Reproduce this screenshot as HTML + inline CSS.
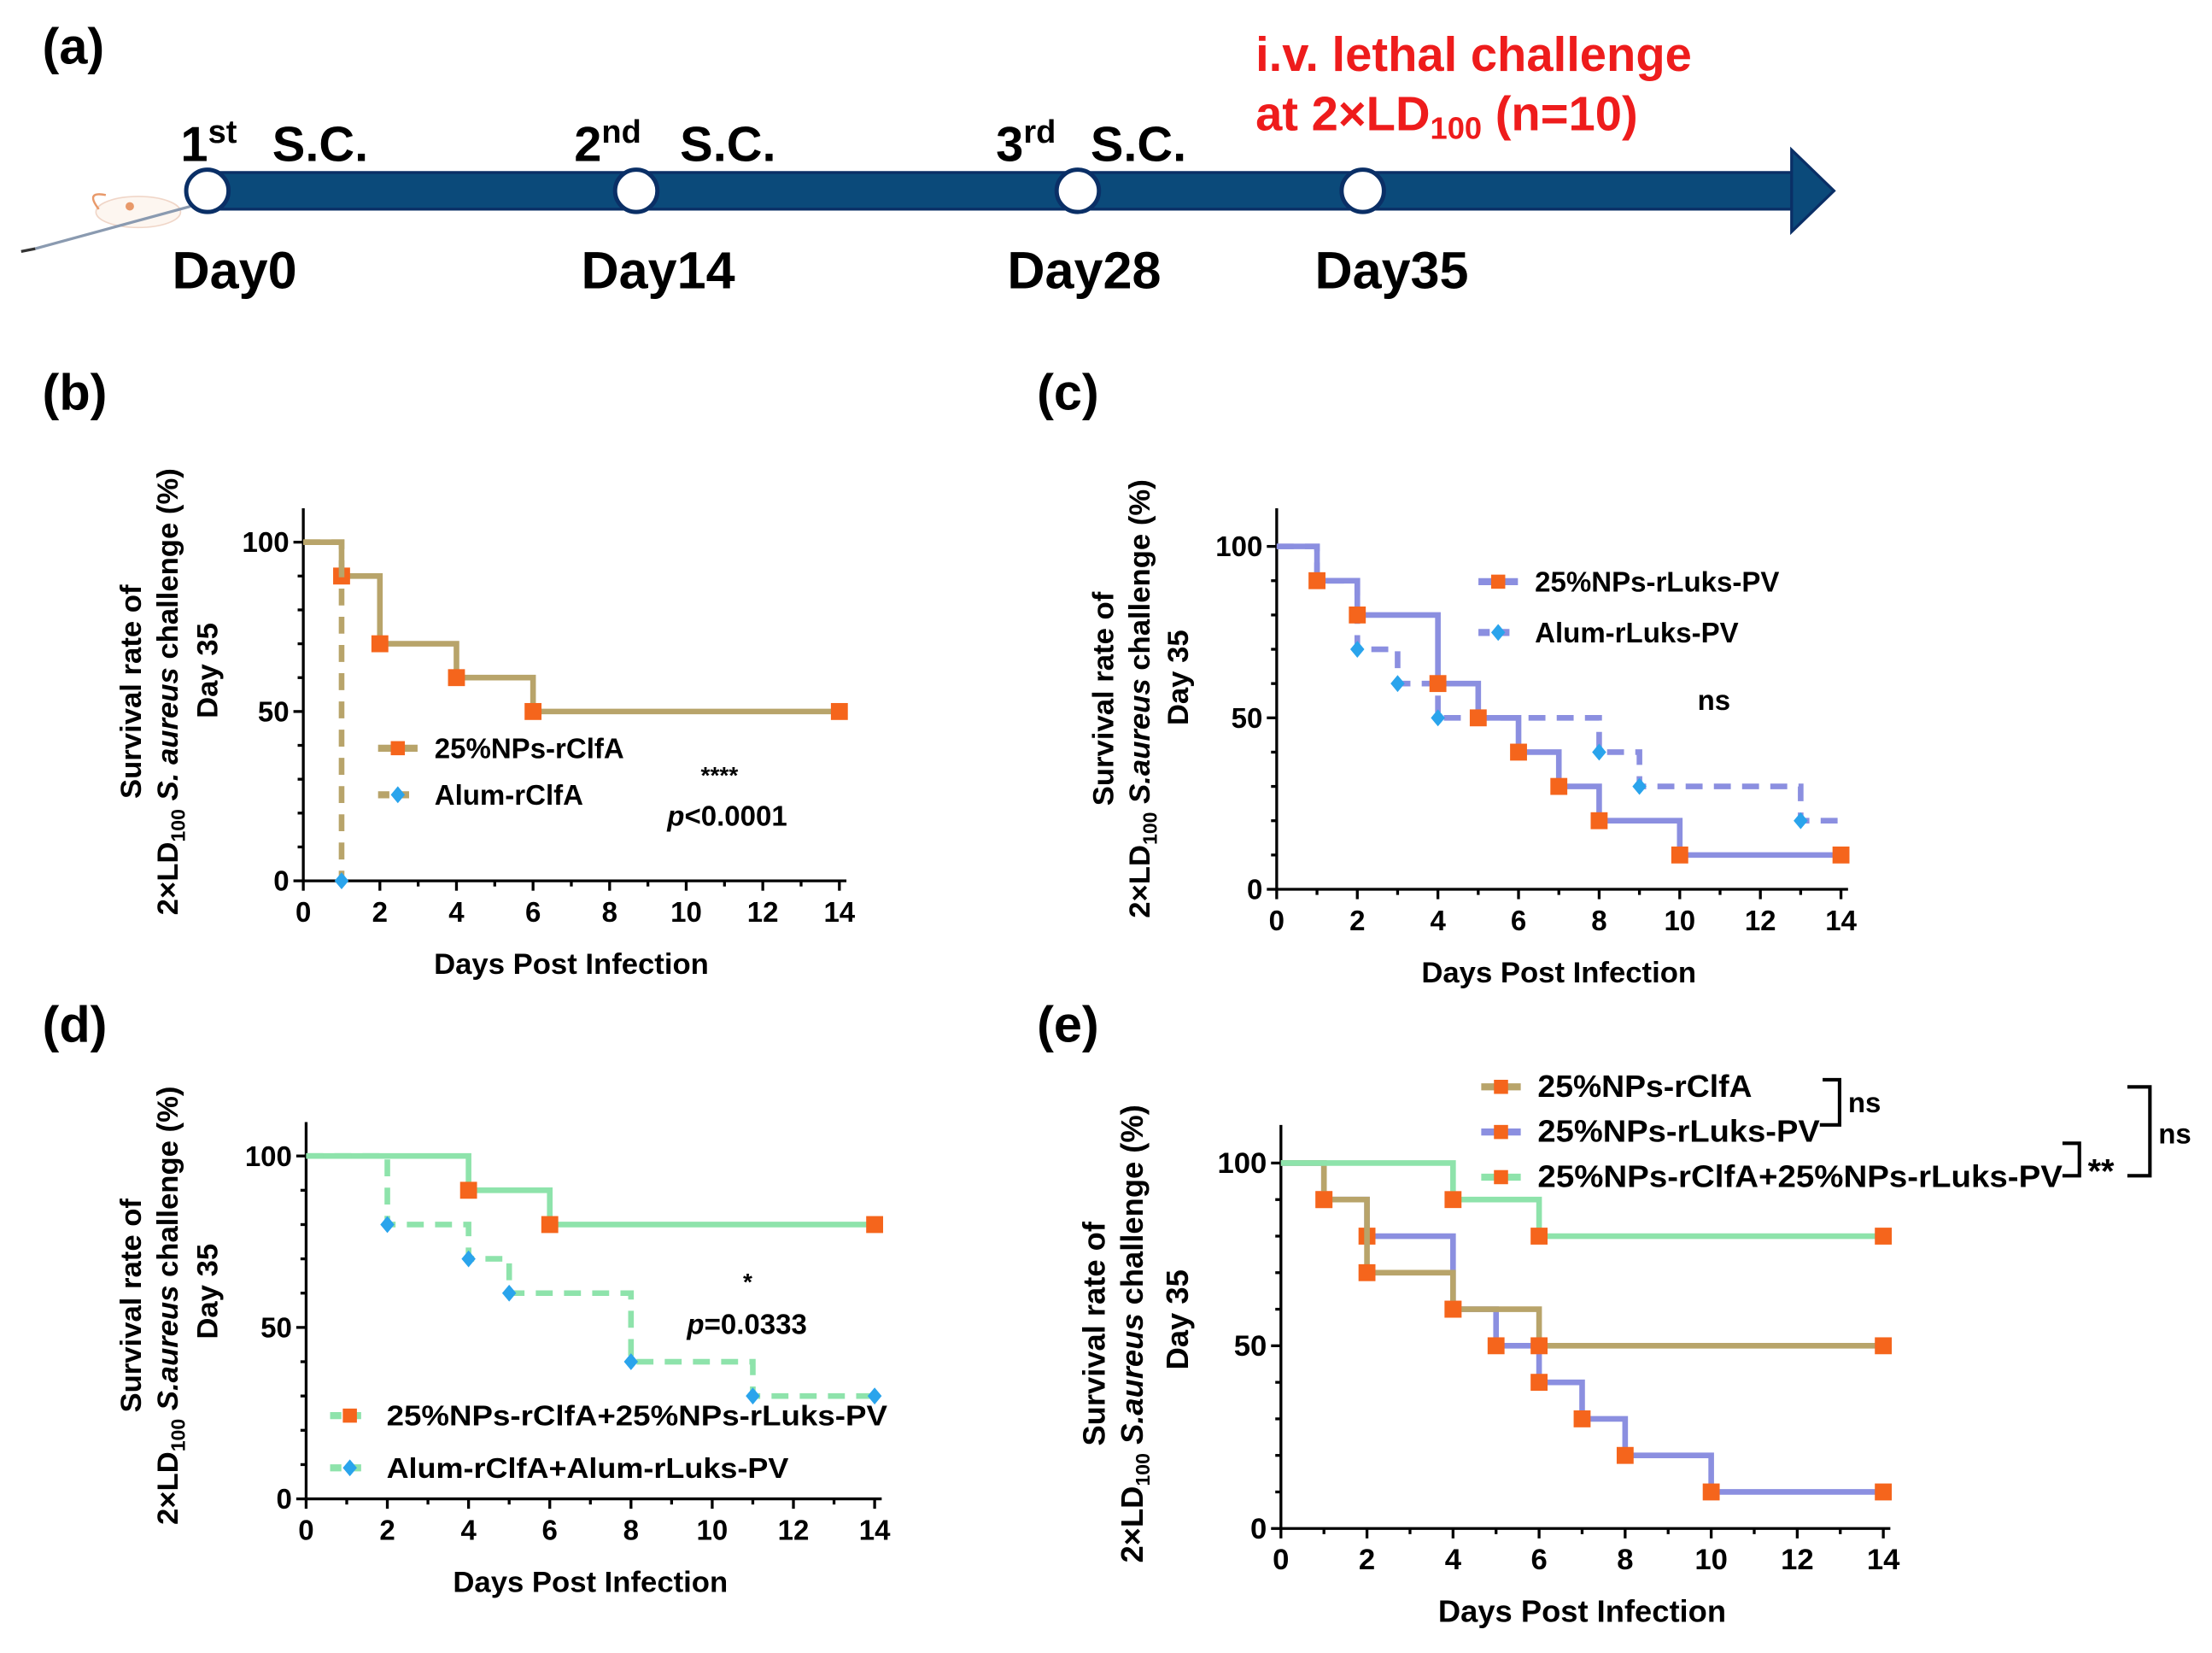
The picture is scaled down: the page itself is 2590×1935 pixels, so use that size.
<!DOCTYPE html>
<html><head><meta charset="utf-8">
<style>
html,body{margin:0;padding:0;background:#fff;}
svg{display:block;font-family:"Liberation Sans",Arial,sans-serif;}
text{font-weight:bold;}
</style></head>
<body>
<svg id="fig" width="2590" height="1935" viewBox="0 0 1568 1171" xmlns="http://www.w3.org/2000/svg">
<g>
<text x="30" y="45" font-size="36">(a)</text>
<g>
<ellipse cx="98" cy="150" rx="30" ry="11" fill="#fdf6f0" stroke="#f0d6c8" stroke-width="1"/>
<path d="M70 148 Q60 135 75 138" fill="none" stroke="#e8996a" stroke-width="1.5"/>
<circle cx="92" cy="146" r="3" fill="#e8996a"/>
<line x1="25" y1="176" x2="135" y2="146" stroke="#8a9ab0" stroke-width="2"/>
<line x1="25" y1="176" x2="15" y2="178" stroke="#333" stroke-width="2"/>
</g>
<rect x="147" y="122" width="1125" height="26" fill="#0b4a7a" stroke="#0a2f66" stroke-width="2"/>
<polygon points="1270,106 1300,135 1270,164" fill="#0b4a7a" stroke="#0a2f66" stroke-width="2"/>
<circle cx="147" cy="135" r="15" fill="#fff" stroke="#0a2f66" stroke-width="3"/>
<circle cx="451" cy="135" r="15" fill="#fff" stroke="#0a2f66" stroke-width="3"/>
<circle cx="764" cy="135" r="15" fill="#fff" stroke="#0a2f66" stroke-width="3"/>
<circle cx="966" cy="135" r="15" fill="#fff" stroke="#0a2f66" stroke-width="3"/>
<text x="128" y="114" font-size="35">1<tspan font-size="23" dy="-13">st</tspan><tspan x="193" dy="13">S.C.</tspan></text>
<text x="407" y="114" font-size="35">2<tspan font-size="23" dy="-13">nd</tspan><tspan x="482" dy="13">S.C.</tspan></text>
<text x="706" y="114" font-size="35">3<tspan font-size="23" dy="-13">rd</tspan><tspan x="773" dy="13">S.C.</tspan></text>
<text x="122" y="204" font-size="37">Day0</text>
<text x="412" y="204" font-size="37">Day14</text>
<text x="714" y="204" font-size="37">Day28</text>
<text x="932" y="204" font-size="37">Day35</text>
<text x="890" y="50" font-size="34" fill="#ee1c1c">i.v. lethal challenge</text>
<text x="890" y="92" font-size="34" fill="#ee1c1c">at 2×LD<tspan font-size="22" dy="6">100</tspan><tspan dy="-6"> (n=10)</tspan></text>
</g>
<g id="charts"></g>
</svg>
<script>
// ---- data ----
const xTicks = [0,2,4,6,8,10,12,14];
const yTicks = [0,50,100];
// panel b
const bNpTimes = [0,1,2,4,6,14];
const bNpVals  = [100,90,70,60,50,50];
const bAlTimes = [0,1];
const bAlVals  = [100,0];
// panel c
const cNpTimes = [0,1,2,4,5,6,7,8,10,14];
const cNpVals  = [100,90,80,60,50,40,30,20,10,10];
const cAlTimes = [0,1,2,3,4,8,9,13,14];
const cAlVals  = [100,90,70,60,50,40,30,20,20];
// panel d
const dNpTimes = [0,4,6,14];
const dNpVals  = [100,90,80,80];
const dAlTimes = [0,2,4,5,8,11,14];
const dAlVals  = [100,80,70,60,40,30,30];
// panel e
const eClfTimes = [0,1,2,4,6,14];
const eClfVals  = [100,90,70,60,50,50];
const eLukTimes = [0,1,2,4,5,6,7,8,10,14];
const eLukVals  = [100,90,80,60,50,40,30,20,10,10];
const eComTimes = [0,4,6,14];
const eComVals  = [100,90,80,80];

const NS='http://www.w3.org/2000/svg';
const TAN='#b8a46a', PUR='#8b8fe0', GRN='#8ee3ab', ORG='#f5651c', BLU='#2aa4ec';
const root=document.getElementById('charts');
function mk(tag,parent,attrs){const e=document.createElementNS(NS,tag);for(const k in attrs)e.setAttribute(k,attrs[k]);parent.appendChild(e);return e;}

function axes(g,P,name){
  const xs=t=>P.x0+(P.x1-P.x0)*t/14, ys=v=>P.y0-(P.y0-P.y100)*v/100;
  let l=mk('line',g,{x1:P.x0,y1:P.top,x2:P.x0,y2:P.y0,stroke:'#000','stroke-width':2});
  
  
  l=mk('line',g,{x1:P.x0,y1:P.y0,x2:P.x1+5,y2:P.y0,stroke:'#000','stroke-width':2});
  
  
  for(let t=0;t<=14;t++){mk('line',g,{x1:xs(t),y1:P.y0,x2:xs(t),y2:P.y0+(t%2?4:7),stroke:'#000','stroke-width':2});}
  xTicks.forEach(t=>{const e=mk('text',g,{x:xs(t),y:P.y0+29,'font-size':P.fs,'text-anchor':'middle'});e.textContent=t;
    
    });
  for(let v=0;v<=100;v+=10){mk('line',g,{x1:P.x0-(v%50?4:7),y1:ys(v),x2:P.x0,y2:ys(v),stroke:'#000','stroke-width':2});}
  yTicks.forEach(v=>{const e=mk('text',g,{x:P.x0-10,y:ys(v)+7,'font-size':P.fs,'text-anchor':'end'});e.textContent=v;
    
    });
  let e=mk('text',g,{x:(P.x0+P.x1)/2,y:P.y0+66,'font-size':P.fs+1,'text-anchor':'middle'});e.textContent='Days Post Infection';
  
  
  const c=P.ycy;
  e=mk('text',g,{x:0,y:0,'font-size':P.fs+1,'text-anchor':'middle',transform:`translate(${P.yx1},${c}) rotate(-90)`});e.textContent='Survival rate of';
  
  
  e=mk('text',g,{x:0,y:0,'font-size':P.fs+1,'text-anchor':'middle',transform:`translate(${P.yx2},${c}) rotate(-90)`});
  e.innerHTML='2×LD<tspan font-size="14" dy="5">100</tspan><tspan dy="-5">  <tspan font-style="italic">'+P.sa+'</tspan> challenge (%)</tspan>';
  
  
  e=mk('text',g,{x:0,y:0,'font-size':P.fs+1,'text-anchor':'middle',transform:`translate(${P.yx3},${P.ycy3}) rotate(-90)`});e.textContent='Day 35';
  
  
  return {xs,ys};
}
function series(g,S,times,vals,color,dashed,marker,mIdx,name){
  let d='M'+S.xs(times[0])+' '+S.ys(vals[0]);
  for(let i=1;i<times.length;i++){d+=' H'+S.xs(times[i])+' V'+S.ys(vals[i]);}
  const p=mk('path',g,{d:d,fill:'none',stroke:color,'stroke-width':4,'stroke-dasharray':dashed?'12 8':'none'});
  
  
  mIdx.forEach(i=>{const m=drawMarker(g,S.xs(times[i]),S.ys(vals[i]),marker);
    
    });
}
function drawMarker(g,x,y,type){
  if(type==='sq')return mk('rect',g,{x:x-6,y:y-6,width:12,height:12,fill:ORG});
  return mk('polygon',g,{points:`${x},${y-6} ${x+5},${y} ${x},${y+6} ${x-5},${y}`,fill:BLU});
}
function legend(g,x,y,color,dashed,marker,label,fs,name,tl){
  const l=mk('line',g,{x1:x,y1:y,x2:x+28,y2:y,stroke:color,'stroke-width':5,'stroke-dasharray':dashed?'8 6':'none'});
  
  
  const m=drawMarker(g,x+14,y,marker);
  if(marker==='sq'){m.setAttribute('x',x+9);m.setAttribute('y',y-5);m.setAttribute('width',10);m.setAttribute('height',10);}
  const t=mk('text',g,{x:x+40,y:y+7,'font-size':fs});t.textContent=label;
  if(tl){t.setAttribute('textLength',tl);t.setAttribute('lengthAdjust','spacingAndGlyphs');}
  
  
}
function txt(g,x,y,s,fs,name,extra){const t=mk('text',g,Object.assign({x:x,y:y,'font-size':fs},extra||{}));t.innerHTML=s;
  
  return t;}
function range(a,b){const r=[];for(let i=a;i<=b;i++)r.push(i);return r;}

// panel b
let g=mk('g',root,{});
txt(g,30,290,'(b)',36,'panel-b-label');
let S=axes(g,{x0:215,x1:595,y0:624,y100:384,top:360,fs:20,yx1:100,yx2:126,yx3:154,ycy:490,ycy3:475,sa:'S. aureus'},'b');
series(g,S,bNpTimes,bNpVals,TAN,false,'sq',range(1,bNpTimes.length-1),'b-nps-rclfa');
series(g,S,bAlTimes,bAlVals,TAN,true,'di',[1],'b-alum-rclfa');
legend(g,268,530,TAN,false,'sq','25%NPs-rClfA',20,'b-nps-rclfa');
legend(g,268,563,TAN,true,'di','Alum-rClfA',20,'b-alum-rclfa');
txt(g,510,555,'****',17,'b-significance-stars',{'text-anchor':'middle'});
txt(g,473,585,'<tspan font-style="italic">p</tspan>&lt;0.0001',20,'b-p-value');

// panel c
g=mk('g',root,{});
txt(g,735,290,'(c)',36,'panel-c-label');
S=axes(g,{x0:905,x1:1305,y0:630,y100:387,top:360,fs:20,yx1:789,yx2:815,yx3:842,ycy:495,ycy3:480,sa:'S.aureus'},'c');
series(g,S,cAlTimes,cAlVals,PUR,true,'di',range(2,7),'c-alum-rluks-pv');
series(g,S,cNpTimes,cNpVals,PUR,false,'sq',range(1,cNpTimes.length-1),'c-nps-rluks-pv');
legend(g,1048,412,PUR,false,'sq','25%NPs-rLuks-PV',20,'c-nps-rluks-pv');
legend(g,1048,448,PUR,true,'di','Alum-rLuks-PV',20,'c-alum-rluks-pv');
txt(g,1215,503,'ns',20,'c-significance',{'text-anchor':'middle'});

// panel d
g=mk('g',root,{});
txt(g,30,738,'(d)',36,'panel-d-label');
S=axes(g,{x0:217,x1:620,y0:1062,y100:819,top:795,fs:20,yx1:100,yx2:126,yx3:154,ycy:925,ycy3:915,sa:'S.aureus'},'d');
series(g,S,dNpTimes,dNpVals,GRN,false,'sq',range(1,dNpTimes.length-1),'d-nps-combo');
series(g,S,dAlTimes,dAlVals,GRN,true,'di',range(1,dAlTimes.length-1),'d-alum-combo');
legend(g,234,1003,GRN,true,'sq','25%NPs-rClfA+25%NPs-rLuks-PV',20,'d-nps-combo',355);
legend(g,234,1040,GRN,true,'di','Alum-rClfA+Alum-rLuks-PV',20,'d-alum-combo',285);
txt(g,530,914,'*',17,'d-significance-star',{'text-anchor':'middle'});
txt(g,487,945,'<tspan font-style="italic">p</tspan>=0.0333',20,'d-p-value');

// panel e
g=mk('g',root,{});
txt(g,735,738,'(e)',36,'panel-e-label');
S=axes(g,{x0:908,x1:1335,y0:1083,y100:824,top:797,fs:21,yx1:783,yx2:810,yx3:842,ycy:945,ycy3:935,sa:'S.aureus'},'e');
series(g,S,eLukTimes,eLukVals,PUR,false,'sq',range(1,eLukTimes.length-1),'e-nps-rluks-pv');
series(g,S,eClfTimes,eClfVals,TAN,false,'sq',range(1,eClfTimes.length-1),'e-nps-rclfa');
series(g,S,eComTimes,eComVals,GRN,false,'sq',range(1,eComTimes.length-1),'e-nps-combo');
legend(g,1050,770,TAN,false,'sq','25%NPs-rClfA',22,'e-nps-rclfa',152);
legend(g,1050,802,PUR,false,'sq','25%NPs-rLuks-PV',22,'e-nps-rluks-pv',200);
legend(g,1050,834,GRN,false,'sq','25%NPs-rClfA+25%NPs-rLuks-PV',22,'e-nps-combo',372);
let br=mk('path',g,{d:'M1292 765 H1304 V797 H1290',fill:'none',stroke:'#000','stroke-width':2.5});


txt(g,1310,788,'ns',20,'e-significance-1');
br=mk('path',g,{d:'M1462 810 H1474 V833 H1462',fill:'none',stroke:'#000','stroke-width':2.5});


txt(g,1480,838,'**',24,'e-significance-2');
br=mk('path',g,{d:'M1508 770 H1524 V833 H1508',fill:'none',stroke:'#000','stroke-width':2.5});


txt(g,1530,810,'ns',20,'e-significance-3');
</script>
</body></html>
